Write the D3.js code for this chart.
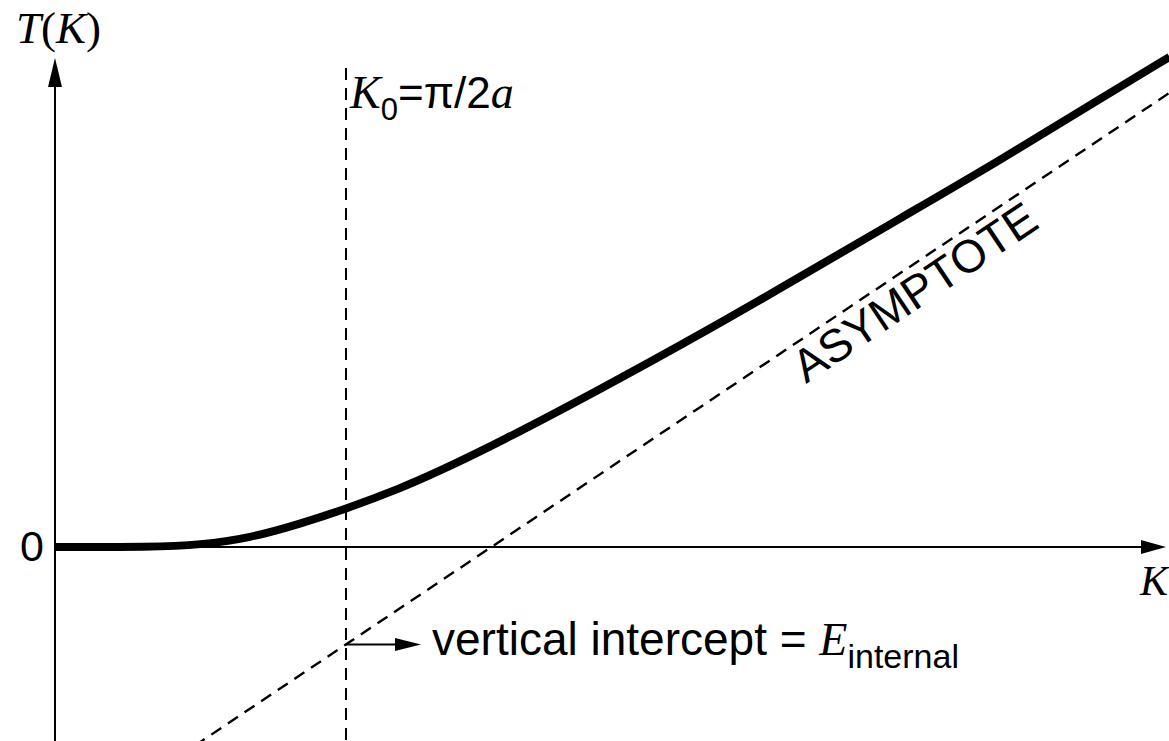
<!DOCTYPE html>
<html>
<head>
<meta charset="utf-8">
<script src="https://cdn.jsdelivr.net/npm/d3@7"></script>
<style>
  html, body { margin: 0; padding: 0; background: #fff; }
  svg { display: block; }
  .sans { font-family: "Liberation Sans", Arial, Helvetica, sans-serif; }
  .serif { font-family: "Liberation Serif", "Times New Roman", Times, serif; }
</style>
</head>
<body>
<svg id="chart" width="1169" height="741"></svg>
<script>
// Kinetic-energy curve T(K), K in units of K0 = pi/2a
const curveK = [0, 0.33, 0.5, 0.67, 0.84, 1.0, 1.19, 1.3, 1.53, 1.87, 2.22, 2.56, 2.9, 3.25, 3.59, 3.83];
const curveT = [0, 0, 0.007, 0.031, 0.079, 0.131, 0.203, 0.251, 0.361, 0.540, 0.732, 0.928, 1.127, 1.330, 1.540, 1.684];

// Straight-line asymptote (two end points)
const asymptoteK = [0.48, 3.83];
const asymptoteT = [-0.683, 1.561];

// Marker position K0 and the asymptote's value there
const K0 = 1.0;
const interceptT = -0.335;

// Axis tick labels
const yTickValues = [0];
const yTickLabels = ["0"];

const svg = d3.select("#chart");
const W = 1169, H = 741;

const x = d3.scaleLinear().domain([0, 3.828]).range([55, 1169]);
const y = d3.scaleLinear().domain([0, 1]).range([547, 256]);

const x0 = x(0), y0 = y(0);

// Axes lines
svg.append("line")
  .attr("x1", x0).attr("x2", 1142)
  .attr("y1", y0).attr("y2", y0)
  .attr("stroke", "#000").attr("stroke-width", 2);
svg.append("line")
  .attr("x1", x0).attr("x2", x0)
  .attr("y1", H).attr("y2", 84)
  .attr("stroke", "#000").attr("stroke-width", 2);

// Arrowheads
function arrowHead(tipX, tipY, dir, len, half) {
  // dir: unit vector pointing toward the tip
  const bx = tipX - dir[0] * len, by = tipY - dir[1] * len;
  const px = -dir[1], py = dir[0];
  return [[tipX, tipY], [bx + px * half, by + py * half], [bx - px * half, by - py * half]];
}
const line = d3.line();
svg.append("path")
  .attr("d", line(arrowHead(1166, y0, [1, 0], 25, 7)) + "Z")
  .attr("fill", "#000");
svg.append("path")
  .attr("d", line(arrowHead(x0, 58, [0, -1], 29, 7)) + "Z")
  .attr("fill", "#000");

// Y tick label
const yAxis = d3.axisLeft(y)
  .tickValues(yTickValues)
  .tickFormat((d, i) => yTickLabels[i])
  .tickSize(0)
  .tickPadding(11);
const gy = svg.append("g").attr("transform", `translate(${x0},0)`).call(yAxis);
gy.select(".domain").remove();
gy.selectAll("text")
  .attr("class", "sans")
  .attr("font-family", null)
  .style("font-size", "43px")
  .attr("fill", "#000");

// Vertical dashed line at K0
svg.append("line")
  .attr("x1", x(K0)).attr("x2", x(K0))
  .attr("y1", 68).attr("y2", H)
  .attr("stroke", "#000").attr("stroke-width", 2)
  .attr("shape-rendering", "crispEdges")
  .attr("stroke-dasharray", "12,8");

// Asymptote (dashed)
svg.append("path")
  .datum(d3.zip(asymptoteK, asymptoteT))
  .attr("d", d3.line().x(d => x(d[0])).y(d => y(d[1])))
  .attr("fill", "none")
  .attr("stroke", "#000").attr("stroke-width", 2.4)
  .attr("stroke-dasharray", "12,8");

// T(K) curve
svg.append("path")
  .datum(d3.zip(curveK, curveT))
  .attr("d", d3.line().x(d => x(d[0])).y(d => y(d[1])).curve(d3.curveBasis))
  .attr("fill", "none")
  .attr("stroke", "#000").attr("stroke-width", 8)
  .attr("stroke-linecap", "butt");

// Arrow pointing from the intercept to its label
const iy = y(interceptT);
svg.append("line")
  .attr("x1", x(K0)).attr("x2", 400)
  .attr("y1", iy).attr("y2", iy)
  .attr("stroke", "#000").attr("stroke-width", 2);
svg.append("path")
  .attr("d", line(arrowHead(421, iy, [1, 0], 26, 6.5)) + "Z")
  .attr("fill", "#000");

// Labels
const tLabel = svg.append("text").attr("x", 16).attr("y", 43).style("font-size", "45px").attr("class", "serif");
tLabel.append("tspan").attr("font-style", "italic").text("T");
tLabel.append("tspan").text("(");
tLabel.append("tspan").attr("font-style", "italic").text("K");
tLabel.append("tspan").text(")");

svg.append("text")
  .attr("class", "serif")
  .attr("x", 1140).attr("y", 595)
  .attr("font-style", "italic")
  .style("font-size", "42px")
  .text("K");

const k0Label = svg.append("text").attr("x", 350).attr("y", 108);
k0Label.append("tspan").attr("class", "serif").attr("font-style", "italic").style("font-size", "46px").text("K");
k0Label.append("tspan").attr("class", "sans").style("font-size", "31px").attr("dy", 12).text("0");
k0Label.append("tspan").attr("class", "sans").style("font-size", "44px").attr("dy", -12).text("=π/2");
k0Label.append("tspan").attr("class", "serif").attr("font-style", "italic").style("font-size", "46px").text("a");

const eLabel = svg.append("text").attr("x", 432).attr("y", 655);
eLabel.append("tspan").attr("class", "sans").style("font-size", "46px").text("vertical intercept = ");
eLabel.append("tspan").attr("class", "serif").attr("font-style", "italic").style("font-size", "46px").text("E");
eLabel.append("tspan").attr("class", "sans").style("font-size", "34px").attr("dy", 13).text("internal");

// Label along the asymptote
const angle = Math.atan2(y(asymptoteT[1]) - y(asymptoteT[0]), x(asymptoteK[1]) - x(asymptoteK[0])) * 180 / Math.PI;
svg.append("text")
  .attr("class", "sans")
  .attr("transform", `translate(806,384) rotate(${angle})`)
  .style("font-size", "46px")
  .text("ASYMPTOTE");
</script>
</body>
</html>
